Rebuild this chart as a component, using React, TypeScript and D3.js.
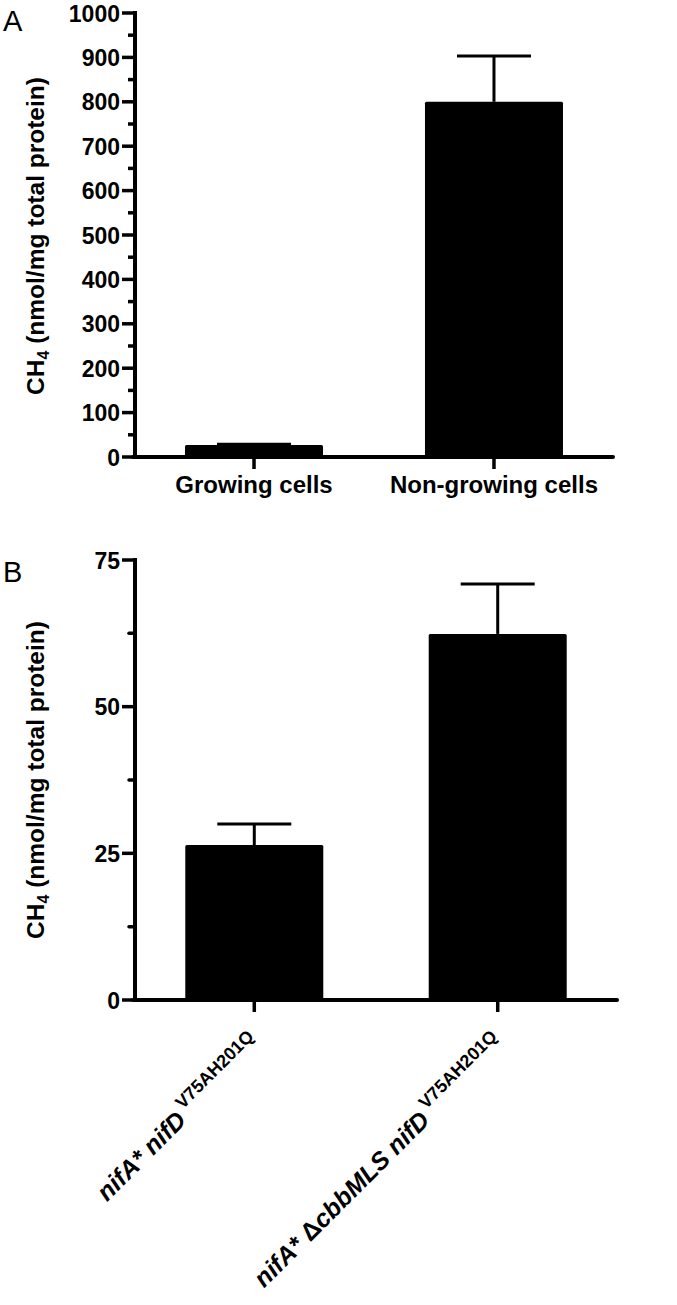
import React from "react";
import * as d3 from "d3";

// ---------- Panel A data ----------
const aCategories = ["Growing cells", "Non-growing cells"];
const aMeans = [27, 800];
const aErrors = [1.5, 103];
const aYTicks = [0, 100, 200, 300, 400, 500, 600, 700, 800, 900, 1000];
const aYMinor = [50, 150, 250, 350, 450, 550, 650, 750, 850, 950];

// ---------- Panel B data ----------
const bCategories = ["nifA* nifD", "nifA* ΔcbbMLS nifD"];
const bSuperscripts = ["V75AH201Q", "V75AH201Q"];
const bMeans = [26.4, 62.4];
const bErrors = [3.6, 8.5];
const bYTicks = [0, 25, 50, 75];
const bYMinor = [12.5, 37.5, 62.5];

const FONT = "'Liberation Sans', Arial, Helvetica, sans-serif";

function YLabel({ x, y }: { x: number; y: number }) {
  return (
    <text
      transform={`translate(${x},${y}) rotate(-90)`}
      textAnchor="middle"
      fontFamily={FONT}
      fontWeight="bold"
      fontSize={24.5}
    >
      CH
      <tspan fontSize={16} dy={5}>4</tspan>
      <tspan dy={-5}> (nmol/mg total protein)</tspan>
    </text>
  );
}

export default function App() {
  const axisX = 135;

  // Panel A scales
  const ayA = d3.scaleLinear().domain([0, 1000]).range([457, 13]);
  const axA = d3.scalePoint<string>().domain(aCategories).range([135, 613]).padding(0.496);
  const xEndA = 613;

  // Panel B scales
  const ayB = d3.scaleLinear().domain([0, 75]).range([1000, 560]);
  const axB = d3.scalePoint<string>().domain(bCategories).range([135, 617]).padding(0.49);
  const xEndB = 617;

  const barW = 138;
  const capW = 74;

  return (
    <svg
      width={677}
      height={1305}
      style={{ position: "absolute", left: 0, top: 0, background: "#fff" }}
    >
      <rect x={0} y={0} width={677} height={1305} fill="#fff" />

      {/* ================= Panel A ================= */}
      <text x={3} y={31} fontFamily={FONT} fontSize={29}>A</text>
      <YLabel x={44} y={236} />

      {aCategories.map((c, i) => {
        const cx = axA(c)!;
        return (
          <g key={c}>
            <line x1={cx} x2={cx} y1={ayA(aMeans[i])} y2={ayA(aMeans[i] + aErrors[i])} stroke="#000" strokeWidth={3} />
            <line x1={cx - capW / 2} x2={cx + capW / 2} y1={ayA(aMeans[i] + aErrors[i])} y2={ayA(aMeans[i] + aErrors[i])} stroke="#000" strokeWidth={3} />
            <rect x={cx - barW / 2} y={ayA(aMeans[i])} width={barW} height={ayA(0) - ayA(aMeans[i])} fill="#000" rx={1.5} />
          </g>
        );
      })}

      <line x1={axisX} x2={axisX} y1={ayA(1000) - 2} y2={ayA(0) + 2} stroke="#000" strokeWidth={4} />
      {aYTicks.map((t) => (
        <g key={t}>
          <line x1={axisX - 13} x2={axisX} y1={ayA(t)} y2={ayA(t)} stroke="#000" strokeWidth={3.5} />
          <text x={axisX - 15} y={ayA(t) + 8.5} textAnchor="end" fontFamily={FONT} fontWeight="bold" fontSize={23}>
            {t}
          </text>
        </g>
      ))}
      {aYMinor.map((t) => (
        <line key={t} x1={axisX - 7} x2={axisX} y1={ayA(t)} y2={ayA(t)} stroke="#000" strokeWidth={3.5} />
      ))}

      <line x1={axisX - 2} x2={xEndA} y1={ayA(0)} y2={ayA(0)} stroke="#000" strokeWidth={4} strokeLinecap="round" />
      {aCategories.map((c) => (
        <g key={c}>
          <line x1={axA(c)!} x2={axA(c)!} y1={ayA(0)} y2={ayA(0) + 12} stroke="#000" strokeWidth={3.5} />
          <text x={axA(c)!} y={ayA(0) + 36} textAnchor="middle" fontFamily={FONT} fontWeight="bold" fontSize={24}>
            {c}
          </text>
        </g>
      ))}

      {/* ================= Panel B ================= */}
      <text x={3} y={582} fontFamily={FONT} fontSize={29}>B</text>
      <YLabel x={44} y={780} />

      {bCategories.map((c, i) => {
        const cx = axB(c)!;
        return (
          <g key={c}>
            <line x1={cx} x2={cx} y1={ayB(bMeans[i])} y2={ayB(bMeans[i] + bErrors[i])} stroke="#000" strokeWidth={3} />
            <line x1={cx - capW / 2} x2={cx + capW / 2} y1={ayB(bMeans[i] + bErrors[i])} y2={ayB(bMeans[i] + bErrors[i])} stroke="#000" strokeWidth={3} />
            <rect x={cx - barW / 2} y={ayB(bMeans[i])} width={barW} height={ayB(0) - ayB(bMeans[i])} fill="#000" rx={1.5} />
          </g>
        );
      })}

      <line x1={axisX} x2={axisX} y1={ayB(75) - 2} y2={ayB(0) + 2} stroke="#000" strokeWidth={4} />
      {bYTicks.map((t) => (
        <g key={t}>
          <line x1={axisX - 13} x2={axisX} y1={ayB(t)} y2={ayB(t)} stroke="#000" strokeWidth={3.5} />
          <text x={axisX - 15} y={ayB(t) + 8.5} textAnchor="end" fontFamily={FONT} fontWeight="bold" fontSize={23}>
            {t}
          </text>
        </g>
      ))}
      {bYMinor.map((t) => (
        <line key={t} x1={axisX - 6} x2={axisX} y1={ayB(t)} y2={ayB(t)} stroke="#000" strokeWidth={3.5} strokeLinecap="round" />
      ))}

      <line x1={axisX - 2} x2={xEndB} y1={ayB(0)} y2={ayB(0)} stroke="#000" strokeWidth={4} strokeLinecap="round" />
      {bCategories.map((c, i) => {
        const cx = axB(c)!;
        const parts = c.split("Δ");
        return (
          <g key={c}>
            <line x1={cx} x2={cx} y1={ayB(0)} y2={ayB(0) + 12} stroke="#000" strokeWidth={3.5} />
            <text
              transform={`translate(${cx + 9},${ayB(0) + 46}) rotate(-45)`}
              textAnchor="end"
              fontFamily={FONT}
              fontWeight="bold"
              fontSize={25}
            >
              {parts.length > 1 ? (
                <>
                  <tspan fontStyle="italic">{parts[0]}</tspan>
                  <tspan>Δ</tspan>
                  <tspan fontStyle="italic">{parts[1]}</tspan>
                </>
              ) : (
                <tspan fontStyle="italic">{c}</tspan>
              )}
              <tspan fontSize={18} dy={-12} dx={5}>{bSuperscripts[i]}</tspan>
            </text>
          </g>
        );
      })}
    </svg>
  );
}
